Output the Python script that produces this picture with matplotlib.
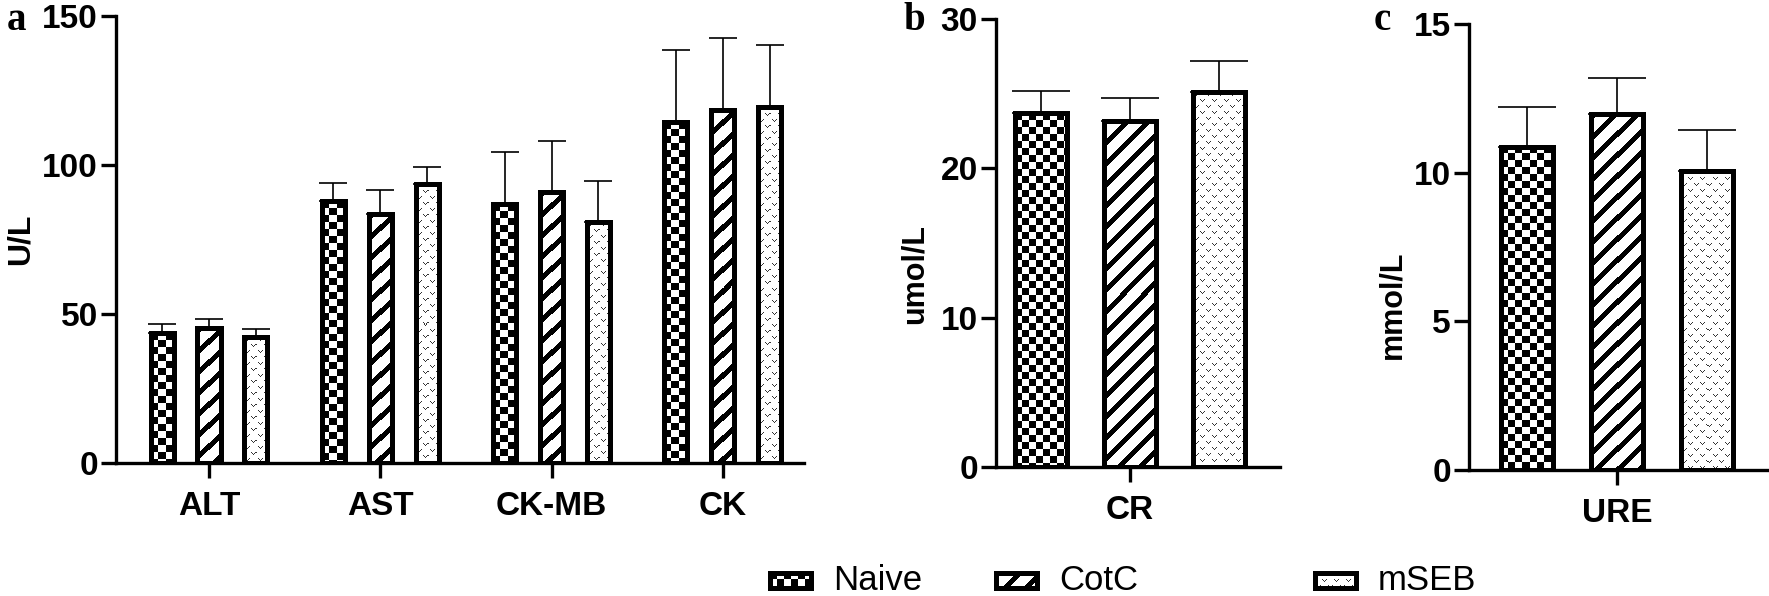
import numpy as np
import matplotlib
matplotlib.use("Agg")
import matplotlib.pyplot as plt
from matplotlib.patches import Rectangle

# groups and fill patterns
groups = ["Naive", "CotC", "mSEB"]
patterns = ["checker", "stripe", "vdots"]

# panel a: liver / heart enzymes (U/L)
enzymes = ["ALT", "AST", "CK-MB", "CK"]
enz_naive = [43.5, 87.7, 86.7, 114.3]
enz_naive_err = [3.1, 6.3, 17.6, 24.1]
enz_cotc = [45.2, 83.5, 90.8, 118.4]
enz_cotc_err = [3.0, 8.2, 17.2, 24.0]
enz_mseb = [42.2, 93.6, 80.7, 119.4]
enz_mseb_err = [2.8, 5.6, 13.7, 20.8]

# panel b: creatinine (umol/L)
cr_vals = [23.7, 23.2, 25.1]
cr_err = [1.45, 1.5, 2.1]

# panel c: urea (mmol/L)
ure_vals = [10.87, 11.97, 10.06]
ure_err = [1.33, 1.21, 1.37]

W, H = 1769, 596
plt.rcParams["font.family"] = ["Liberation Sans", "DejaVu Sans"]
plt.rcParams["font.weight"] = "bold"
fig = plt.figure(figsize=(W / 100, H / 100), dpi=100)


def pattern_img(kind, h, w):
    yy, xx = np.mgrid[0:h, 0:w]
    if kind == "checker":
        img = np.where(((yy // 7 + xx // 7) % 2) == 0, 0.0, 1.0)
    elif kind == "stripe":
        img = np.where(((yy + xx) % 21) < 7, 0.0, 1.0)
    else:
        def vee(r, c):
            return (((r == 1) & ((c == 1) | (c == 5))) |
                    ((r == 2) & ((c == 2) | (c == 4))) |
                    ((r == 3) & (c == 3)))
        m = vee(yy % 12, xx % 12) | vee((yy + 6) % 12, (xx + 6) % 12)
        img = np.where(m, 0.2, 1.0)
    return np.dstack([img] * 3)


def fill_bar(ax, patch, kind):
    x0, y0 = patch.get_x(), patch.get_y()
    x1, y1 = x0 + patch.get_width(), y0 + patch.get_height()
    (px0, py0), (px1, py1) = ax.transData.transform([(x0, y0), (x1, y1)])
    w = max(int(round(abs(px1 - px0))), 1)
    h = max(int(round(abs(py1 - py0))), 1)
    top, bot = (y1, y0) if py1 > py0 else (y0, y1)
    xl, yl = ax.get_xlim(), ax.get_ylim()
    im = ax.imshow(pattern_img(kind, h, w), extent=(x0, x1, bot, top),
                   origin="upper", aspect="auto", interpolation="nearest",
                   zorder=patch.get_zorder() - 0.5)
    im.set_clip_path(patch)
    ax.set_xlim(xl)
    ax.set_ylim(yl)


def style_axes(ax):
    for s in ["top", "right"]:
        ax.spines[s].set_visible(False)
    for s in ["left", "bottom"]:
        ax.spines[s].set_linewidth(2.4)
    ax.tick_params(axis="y", length=11, width=2.4, labelsize=24, pad=2)
    ax.tick_params(axis="x", length=11, width=2.4, labelsize=24, pad=9)


def px_axes(left, right, top, bottom):
    return fig.add_axes([left / W, 1 - bottom / H, (right - left) / W, (bottom - top) / H])


# ---- panel a
ax1 = px_axes(116, 804, 15.7, 463)
ax1.set_xlim(-0.543, 3.474)
ax1.set_ylim(0, 150)
x = np.arange(len(enzymes))
series = [(enz_naive, enz_naive_err), (enz_cotc, enz_cotc_err), (enz_mseb, enz_mseb_err)]
for i, (vals, err) in enumerate(series):
    pos = x + (i - 1) * 0.274
    bars = ax1.bar(pos, vals, 0.135, facecolor="none", edgecolor="k", linewidth=3.6, zorder=2)
    for b in bars:
        fill_bar(ax1, b, patterns[i])
    ax1.errorbar(pos, vals, yerr=[np.zeros(len(vals)), err], fmt="none", ecolor="k",
                 elinewidth=1.2, capsize=10, capthick=1.2, zorder=3)
ax1.set_yticks([0, 50, 100, 150])
ax1.set_xticks(x, enzymes)
style_axes(ax1)
ax1.set_ylabel("U/L", fontsize=23, fontweight="bold")
ax1.yaxis.set_label_coords((36 - 116) / 688, 0.5)


def single_panel(ax, vals, err, label, ylim, yticks, ylabel, lab_x, lab_y):
    ax.set_ylim(*ylim)
    pos = np.arange(len(vals)) - 1
    bars = ax.bar(pos, vals, 0.58, facecolor="none", edgecolor="k", linewidth=3.6, zorder=2)
    for b, k in zip(bars, patterns):
        fill_bar(ax, b, k)
    ax.errorbar(pos, vals, yerr=[np.zeros(len(vals)), err], fmt="none", ecolor="k",
                elinewidth=1.2, capsize=21, capthick=1.2, zorder=3)
    ax.set_yticks(yticks)
    ax.set_xticks([0], [label])
    style_axes(ax)
    ax.set_ylabel(ylabel, fontsize=22, fontweight="bold")
    ax.yaxis.set_label_coords(lab_x, lab_y)


# ---- panel b
ax2 = px_axes(996, 1280, 19, 467)
ax2.set_xlim(-1.50, 1.68)
single_panel(ax2, cr_vals, cr_err, "CR", (0, 30), [0, 10, 20, 30], "umol/L",
             (930 - 996) / 284, 0.43)

# ---- panel c
ax3 = px_axes(1469, 1768, 24, 470)
ax3.set_xlim(-1.65, 1.68)
single_panel(ax3, ure_vals, ure_err, "URE", (0, 15), [0, 5, 10, 15], "mmol/L",
             (1407 - 1469) / 299, 0.37)

# panel letters
for letter, lx in [("a", 7), ("b", 903), ("c", 1374)]:
    fig.text(lx / W, 1 - 30 / H, letter, fontsize=28, fontweight="bold",
             family=["Liberation Serif", "DejaVu Serif"], va="baseline", ha="left")

# legend drawn in pixel space along the bottom
lax = fig.add_axes([0, 0, 1, 1])
lax.set_xlim(0, W)
lax.set_ylim(H, 0)
lax.axis("off")
for i, lx in enumerate([767, 993, 1312]):
    r = Rectangle((lx + 2.5, 572.5), 41, 15, facecolor="none", edgecolor="k", linewidth=3.6, zorder=2)
    lax.add_patch(r)
    fill_bar(lax, r, patterns[i])
    lax.text(lx + 66, 580, groups[i], fontsize=25, fontweight="normal", va="center", ha="left")

fig.savefig("out.png", dpi=100)
